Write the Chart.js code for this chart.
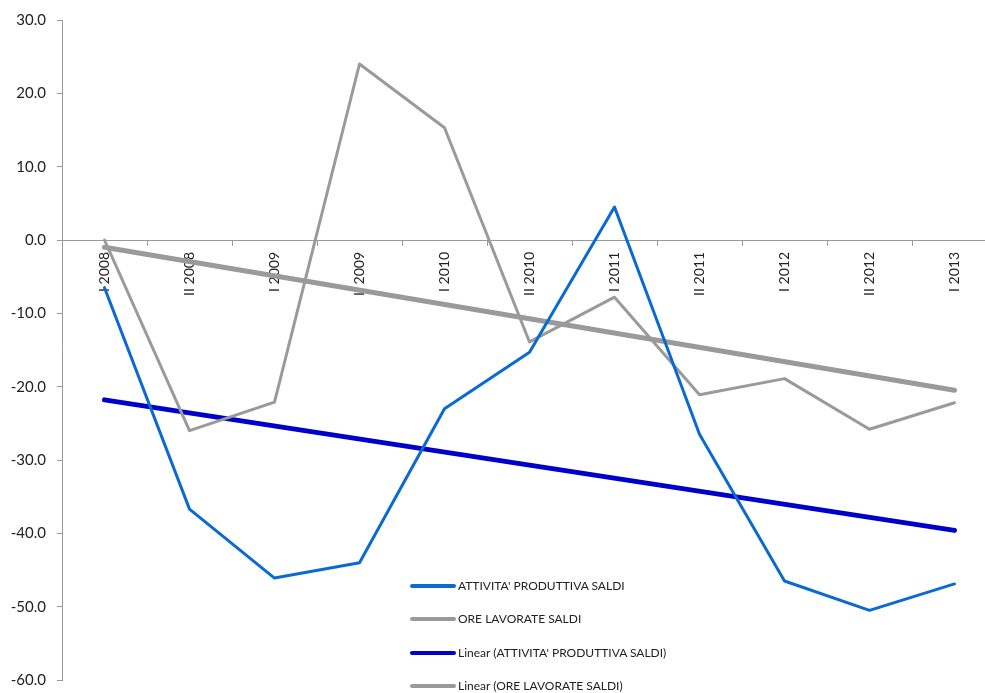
<!DOCTYPE html>
<html>
<head>
<meta charset="utf-8">
<script src="https://cdn.jsdelivr.net/npm/chart.js@4.4.1/dist/chart.umd.min.js"></script>
<style>
  body { margin: 0; background: #fff; overflow: hidden; }
  #wrap { position: absolute; left: 0; top: 0; width: 1000px; height: 700px; }
  #legend { position: absolute; left: 410px; top: 570px; font-family: Lato, sans-serif; font-size: 12px; color: #222; }
  .item { position: relative; height: 33.3px; }
  .item .sw { position: absolute; left: 0; top: 14px; width: 46px; height: 4px; border-radius: 2px; }
  .item .tx { position: absolute; left: 48px; top: 8px; white-space: nowrap; }
</style>
</head>
<body>
<div id="wrap">
  <canvas id="chart" width="1000" height="700"></canvas>
  <div id="legend"></div>
</div>
<script>
// Dati
const categories = ['I 2008', 'II 2008', 'I 2009', 'II 2009', 'I 2010', 'II 2010', 'I 2011', 'II 2011', 'I 2012', 'II 2012', 'I 2013'];
const attivitaSaldi = [-6.5, -36.7, -46.1, -44.0, -23.0, -15.3, 4.5, -26.5, -46.5, -50.5, -46.9];
const oreSaldi = [0.0, -26.0, -22.1, 24.0, 15.3, -13.9, -7.8, -21.1, -18.9, -25.8, -22.2];
// linee di tendenza: solo gli estremi, il resto è una retta
const trendAttivita = [-21.8, null, null, null, null, null, null, null, null, null, -39.6];
const trendOre = [-1.0, null, null, null, null, null, null, null, null, null, -20.5];
const yTicks = [30, 20, 10, 0, -10, -20, -30, -40, -50, -60];

const BLUE = '#0a6ad0';
const DARK_BLUE = '#0000cc';
const GRAY = '#9a9a9a';

const datasets = [
    { label: "ATTIVITA' PRODUTTIVA SALDI", data: attivitaSaldi, borderColor: BLUE, borderWidth: 3 },
    { label: 'ORE LAVORATE SALDI', data: oreSaldi, borderColor: GRAY, borderWidth: 3 },
    { label: "Linear (ATTIVITA' PRODUTTIVA SALDI)", data: trendAttivita, borderColor: DARK_BLUE, borderWidth: 5, spanGaps: true },
    { label: 'Linear (ORE LAVORATE SALDI)', data: trendOre, borderColor: GRAY, borderWidth: 5, spanGaps: true }
].map(d => Object.assign({
    pointRadius: 0,
    tension: 0,
    fill: false,
    borderCapStyle: 'round',
    borderJoinStyle: 'round'
}, d));

new Chart(document.getElementById('chart').getContext('2d'), {
    type: 'line',
    data: { labels: categories, datasets: datasets },
    options: {
        responsive: false,
        animation: false,
        layout: { padding: { left: 0, top: 19, bottom: 7, right: 3 } },
        plugins: { legend: { display: false }, tooltip: { enabled: false } },
        scales: {
            x: {
                type: 'category',
                offset: true,
                position: { y: 0 },
                border: { color: '#9a9a9a', width: 1 },
                grid: { offset: true, drawOnChartArea: false, drawTicks: true, tickLength: 5, color: '#9a9a9a' },
                ticks: {
                    minRotation: 90,
                    maxRotation: 90,
                    autoSkip: false,
                    padding: 7,
                    color: '#222',
                    font: { family: 'Lato', size: 14 }
                }
            },
            y: {
                min: -60,
                max: 30,
                afterFit: (scale) => { scale.width = 62; },
                afterBuildTicks: (scale) => { scale.ticks = yTicks.map(v => ({ value: v })); },
                border: { color: '#9a9a9a', width: 1 },
                grid: { drawOnChartArea: false, drawTicks: true, tickLength: 5, color: '#9a9a9a' },
                ticks: {
                    padding: 11,
                    color: '#222',
                    font: { family: 'Lato', size: 15 },
                    callback: (v) => Number(v).toFixed(1)
                }
            }
        }
    }
});

// Legenda HTML dentro l'area del grafico
const legend = document.getElementById('legend');
datasets.forEach(d => {
    const item = document.createElement('div');
    item.className = 'item';
    item.innerHTML = `<span class="sw" style="background:${d.borderColor}"></span><span class="tx">${d.label}</span>`;
    legend.appendChild(item);
});
</script>
</body>
</html>
